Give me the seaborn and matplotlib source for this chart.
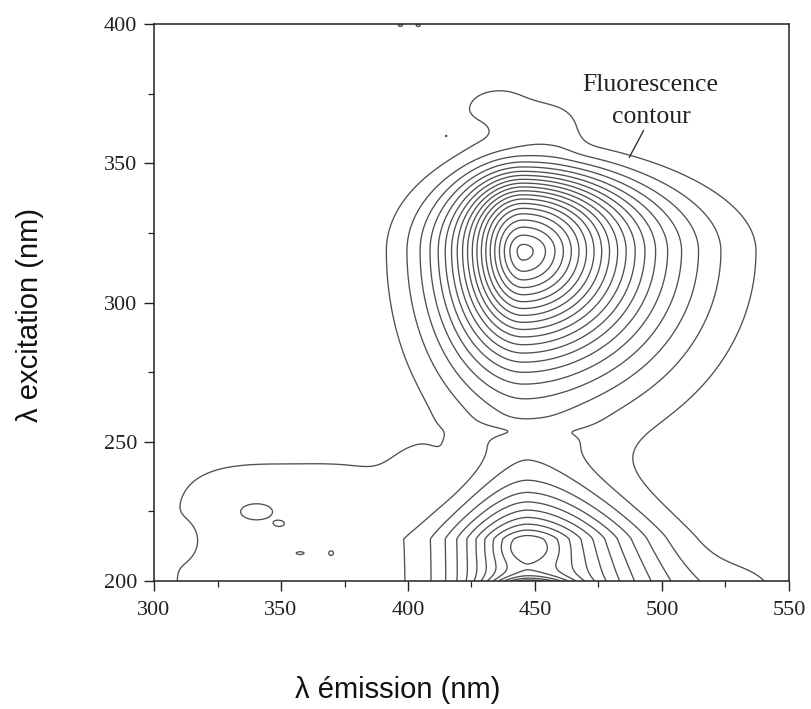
import numpy as np
import matplotlib
matplotlib.use("Agg")
import matplotlib.pyplot as plt
from matplotlib.ticker import FixedLocator
import seaborn as sns

# Axis extents and ticks (nm)
em_limits = [300, 550]
ex_limits = [200, 400]
em_major = [300, 350, 400, 450, 500, 550]
ex_major = [200, 250, 300, 350, 400]
em_minor = [325, 375, 425, 475, 525]
ex_minor = [225, 275, 325, 375]

# Contour levels (relative fluorescence intensity)
contour_levels = [1, 2, 3, 4, 5, 6, 7, 8, 9, 10,
                  11, 12, 13, 14, 15, 16, 17, 18, 19, 20]

# Rounded components of the excitation-emission matrix:
# centre (em, ex), height, spreads (left, right, below, above),
# profile exponent and exponent towards higher excitation
blob_name = ["peak 320/445", "valley", "top of UV peak", "scatter band",
             "right tail", "bridge", "hump", "hump right",
             "notch left", "notch top",
             "isle 1", "isle 2", "isle 3", "isle 4", "isle 5", "isle 6",
             "isle 7", "isle 8"]
blob_em = [445.3, 446.0, 447.0, 448.0, 535.0, 403.0, 436.0, 458.0,
           311.0, 423.5,
           340.0, 349.5, 357.5, 369.7, 310.0, 415.0, 397.0, 404.0]
blob_ex = [318.5, 254.0, 212.0, 195.0, 198.0, 240.0, 370.0, 363.0,
           214.5, 361.5,
           225.0, 220.5, 210.0, 210.0, 214.5, 359.8, 399.5, 399.5]
blob_height = [20.4, -0.7, 1.2, 14.0, 0.6, 0.6, 1.15, 0.7,
               -0.6, -0.8,
               0.75, 0.56, 0.56, 0.62, 0.55, 0.56, 1.1, 1.1]
blob_left = [27.0, 20.0, 12.0, 14.0, 20.0, 12.0, 30.0, 18.0,
             6.0, 4.5, 11.0, 3.0, 4.0, 1.6, 1.3, 0.9, 2.5, 2.5]
blob_right = [46.0, 20.0, 12.0, 16.0, 20.0, 10.0, 30.0, 12.0,
              6.0, 4.5, 11.0, 3.0, 4.0, 1.6, 1.3, 0.9, 2.5, 2.5]
blob_below = [38.0, 3.0, 5.0, 3.5, 20.0, 12.0, 12.0, 10.0,
              6.0, 2.2, 5.0, 1.5, 1.3, 1.4, 3.0, 0.9, 1.2, 1.2]
blob_above = [26.4, 3.0, 5.0, 4.5, 12.0, 14.0, 16.0, 8.0,
              6.0, 2.2, 5.0, 1.5, 1.3, 1.4, 3.0, 0.9, 1.2, 1.2]
blob_shape = [1.6, 2.0, 2.0, 2.0, 2.0, 2.0, 2.0, 3.0,
              2.0, 2.0, 2.0, 2.0, 2.0, 2.0, 2.0, 2.0, 2.0, 2.0]
blob_shape_up = [3.0, 2.0, 2.0, 2.0, 2.0, 2.0, 2.0, 3.0,
                 2.0, 2.0, 2.0, 2.0, 2.0, 2.0, 2.0, 2.0, 2.0, 2.0]

# UV band rising from the lower edge: emission profile times excitation decay
band_em, band_height = 447.0, 10.6
band_left, band_right, band_shape = 31.9, 41.0, 1.8
band_flat_ex, band_decay, band_decay_shape = 215.0, 19.0, 1.3
band_widen_right, band_narrow = 0.0133, 0.008

# Flat-topped UV shoulder (centre, height, spreads, edge sharpness)
shoulder_em, shoulder_ex, shoulder_height = 352.0, 212.0, 1.5
shoulder_left, shoulder_right = 58.0, 50.0
shoulder_below, shoulder_above = 60.0, 37.6
shoulder_edge_left, shoulder_edge_right, shoulder_edge_y = 3.0, 4.0, 4.0


def blob(em, ex, e0, x0, h, sl, sr, sd, su, p, pu):
    dx = em - e0
    dy = ex - x0
    u = dx / np.where(dx < 0, sl, sr)
    v = dy / np.where(dy < 0, sd, su)
    r2 = u ** 2 + v ** 2
    vu = np.where(dy > 0, v, 0.0)
    pe = p + (pu - p) * vu ** 2 / (r2 + 0.5)
    return h * np.exp(-np.power(r2, pe / 2.0))


em_axis = np.arange(em_limits[0], em_limits[1] + 0.01, 0.25)
ex_axis = np.arange(ex_limits[0], ex_limits[1] + 0.01, 0.25)
EM, EX = np.meshgrid(em_axis, ex_axis)

intensity = np.zeros_like(EM)
for i in range(len(blob_name)):
    intensity += blob(EM, EX, blob_em[i], blob_ex[i], blob_height[i],
                      blob_left[i], blob_right[i], blob_below[i],
                      blob_above[i], blob_shape[i], blob_shape_up[i])

# UV band
above_flat = np.clip(EX - band_flat_ex, 0, None)
below_flat = np.clip(band_flat_ex - EX, 0, None)
narrow = np.clip(1.0 - band_narrow * above_flat, 0.3, None)
w_left = band_left * narrow
w_right = band_right * narrow * (1.0 + band_widen_right * below_flat)
dxb = EM - band_em
band_x = np.exp(-np.power(np.abs(dxb) / np.where(dxb < 0, w_left, w_right),
                          band_shape))
band_y = np.exp(-np.power(above_flat / band_decay, band_decay_shape))
intensity += band_height * band_x * band_y

# UV shoulder
dxs = EM - shoulder_em
dys = EX - shoulder_ex
us = np.abs(dxs) / np.where(dxs < 0, shoulder_left, shoulder_right)
vs = np.abs(dys) / np.where(dys < 0, shoulder_below, shoulder_above)
ps = np.where(dxs < 0, shoulder_edge_left, shoulder_edge_right)
intensity += shoulder_height * np.exp(-us ** ps) * np.exp(-vs ** shoulder_edge_y)

sns.set_theme(style="ticks")
plt.rcParams["font.family"] = ["Liberation Serif", "DejaVu Serif"]

W, H = 812, 709
fig = plt.figure(figsize=(W / 100, H / 100), dpi=100)
ax = fig.add_axes([154 / W, 1 - 581 / H, (789 - 154) / W, (581 - 24) / H])

ax.contour(EM, EX, intensity, levels=contour_levels, colors="#505050",
           linewidths=0.95)

ax.set_xlim(*em_limits)
ax.set_ylim(*ex_limits)
ax.xaxis.set_major_locator(FixedLocator(em_major))
ax.yaxis.set_major_locator(FixedLocator(ex_major))
ax.xaxis.set_minor_locator(FixedLocator(em_minor))
ax.yaxis.set_minor_locator(FixedLocator(ex_minor))
ax.tick_params(which="major", direction="out", length=7.2, width=1.0,
               labelsize=16, colors="#222222")
ax.tick_params(axis="x", which="major", pad=7.0)
ax.tick_params(axis="y", which="major", pad=5.0)
ax.tick_params(which="minor", direction="out", length=4.3, width=0.9,
               colors="#222222")
for s in ax.spines.values():
    s.set_linewidth(1.1)
    s.set_color("#222222")

fig.text(398 / W, 1 - 690 / H, "\u03bb \u00e9mission (nm)", ha="center",
         va="center", fontsize=21, family="Liberation Sans", color="#111111")
fig.text(30 / W, 1 - 315 / H, "\u03bb excitation (nm)", ha="center",
         va="center", rotation=90, fontsize=21, family="Liberation Sans",
         color="#111111")

# Callout for the outermost contour
callout_lines = ["Fluorescence", "contour"]
callout_em = [495.3, 495.7]
callout_ex = [378.1, 366.6]
callout_tip = (486.6, 351.2)
callout_tail = (493.3, 362.7)
for txt, xe, ye in zip(callout_lines, callout_em, callout_ex):
    ax.text(xe, ye, txt, ha="center", va="center", fontsize=18.5,
            color="#222222")
ax.annotate("", xy=callout_tip, xytext=callout_tail,
            arrowprops=dict(arrowstyle="-", color="#333333", lw=1.0))

fig.savefig("out.png", dpi=100)
